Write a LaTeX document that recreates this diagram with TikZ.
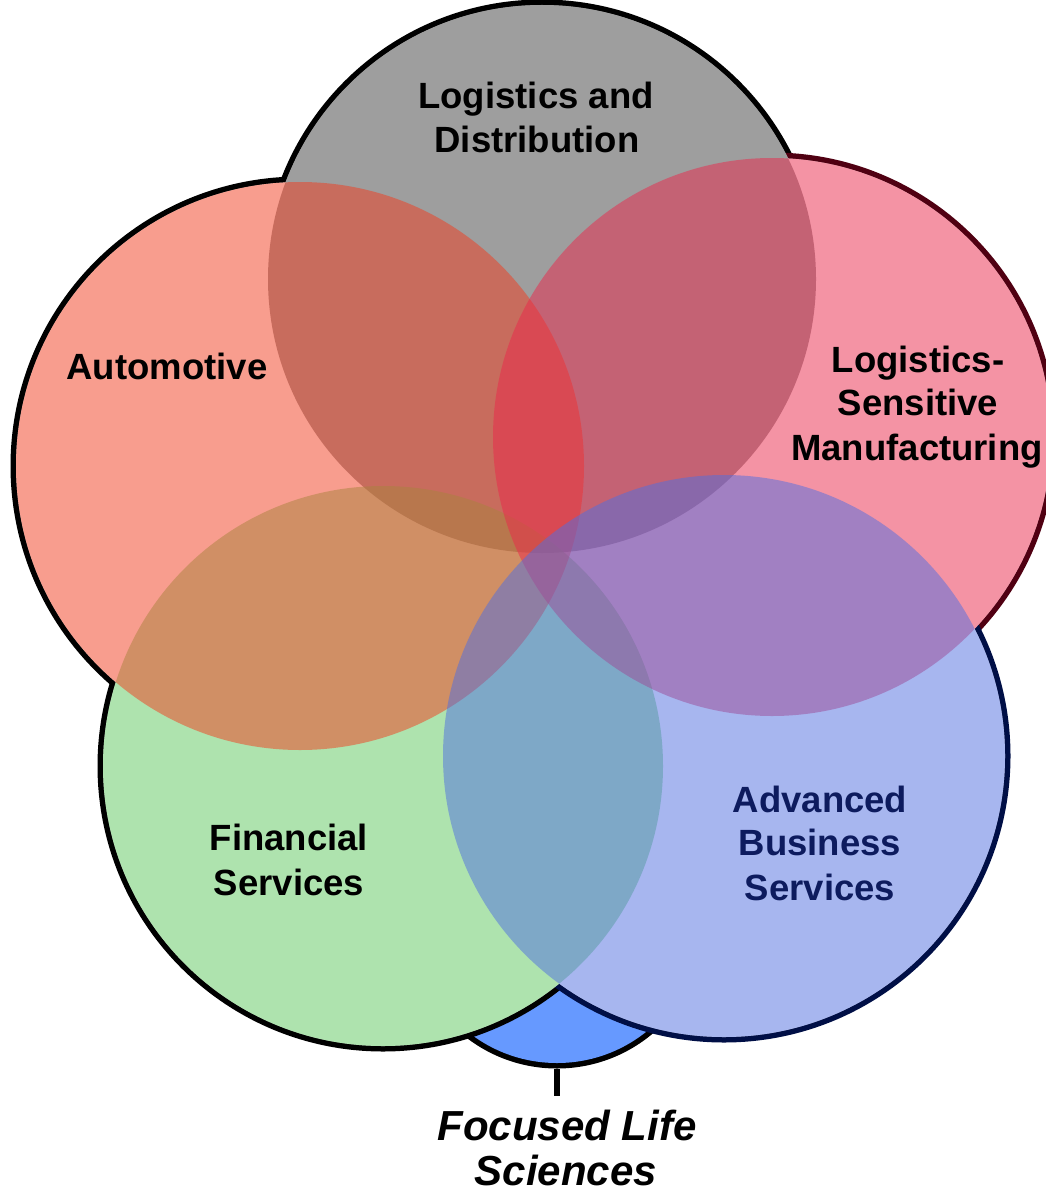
\documentclass[tikz,border=0pt]{standalone}
\usepackage{fontspec}
\setmainfont{Liberation Sans}
\definecolor{ldcol}{RGB}{62,62,62}
\definecolor{aucol}{RGB}{242,60,30}
\definecolor{lmcol}{RGB}{235,40,75}
\definecolor{fscol}{RGB}{95,200,95}
\definecolor{abcol}{RGB}{80,110,225}
\definecolor{flcol}{RGB}{102,153,255}
\definecolor{lmrim}{RGB}{80,0,18}
\definecolor{abrim}{RGB}{0,15,70}
\definecolor{abtext}{RGB}{13,27,94}
\begin{document}
\begin{tikzpicture}[x=1pt,y=-1pt,
  rim/.style={draw=black,line width=11pt},
  tint/.style={fill=#1,fill opacity=0.5},
  lbl/.style={font=\fontsize{36.5}{44}\selectfont\bfseries,anchor=base,inner sep=0pt},
  itlbl/.style={font=\fontsize{42}{48}\selectfont\bfseries\itshape,anchor=base,inner sep=0pt},
  tick/.style={line width=6.5pt}]
\useasboundingbox (0,0) rectangle (1045,1196);

% circle centres
\coordinate (cLD) at (542,279);
\coordinate (cAU) at (300,466);
\coordinate (cLM) at (772,437);
\coordinate (cFS) at (383,766);
\coordinate (cAB) at (724,756);
\node[circle,minimum size=286pt,inner sep=0pt,outer sep=0pt] (flc) at (557,920) {};

% small circle underneath
\draw[rim] (flc.center) circle[radius=143pt];
\fill[flcol] (flc.center) circle[radius=143pt];

% outer rims of the five large circles
\draw[rim] (cAU) circle[radius=284pt];
\draw[rim] (cLD) circle[radius=274pt];
\draw[rim,draw=lmrim] (cLM) circle[radius=279pt];
\draw[rim] (cFS) circle[radius=280pt];
\draw[rim,draw=abrim] (cAB) circle[radius=281pt];

% white bases hide the inner half of each rim
\fill[white] (cAU) circle[radius=284pt];
\fill[white] (cLD) circle[radius=274pt];
\fill[white] (cLM) circle[radius=279pt];
\fill[white] (cFS) circle[radius=280pt];
\fill[white] (cAB) circle[radius=281pt];

% translucent fills
\fill[tint=ldcol] (cLD) circle[radius=274pt];
\fill[tint=fscol] (cFS) circle[radius=280pt];
\fill[tint=aucol] (cAU) circle[radius=284pt];
\fill[tint=lmcol] (cLM) circle[radius=279pt];
\fill[tint=abcol] (cAB) circle[radius=281pt];

% labels
\node[lbl] (ld1) at (536,109) {Logistics and};
\node[lbl] (ld2) at (537,153) {Distribution};
\node[lbl] (au1) at (167,379) {Automotive};
\node[lbl] (lm1) at (918,372) {Logistics-};
\node[lbl] (lm2) at (918,415) {Sensitive};
\node[lbl] (lm3) at (917,460) {Manufacturing};
\node[lbl] (fs1) at (289,850) {Financial};
\node[lbl] (fs2) at (289,895) {Services};
\node[lbl,text=abtext] (ab1) at (820,812) {Advanced};
\node[lbl,text=abtext] (ab2) at (820,855) {Business};
\node[lbl,text=abtext] (ab3) at (820,900) {Services};
\node[itlbl] (fl1) at (567,1140) {Focused Life};
\node[itlbl] (fl2) at (566,1185) {Sciences};

% pointer from the small circle to its label
\draw[tick,shorten <=6pt,shorten >=13pt] (flc.south) -- (flc.south |- fl1.north);
\end{tikzpicture}
\end{document}
